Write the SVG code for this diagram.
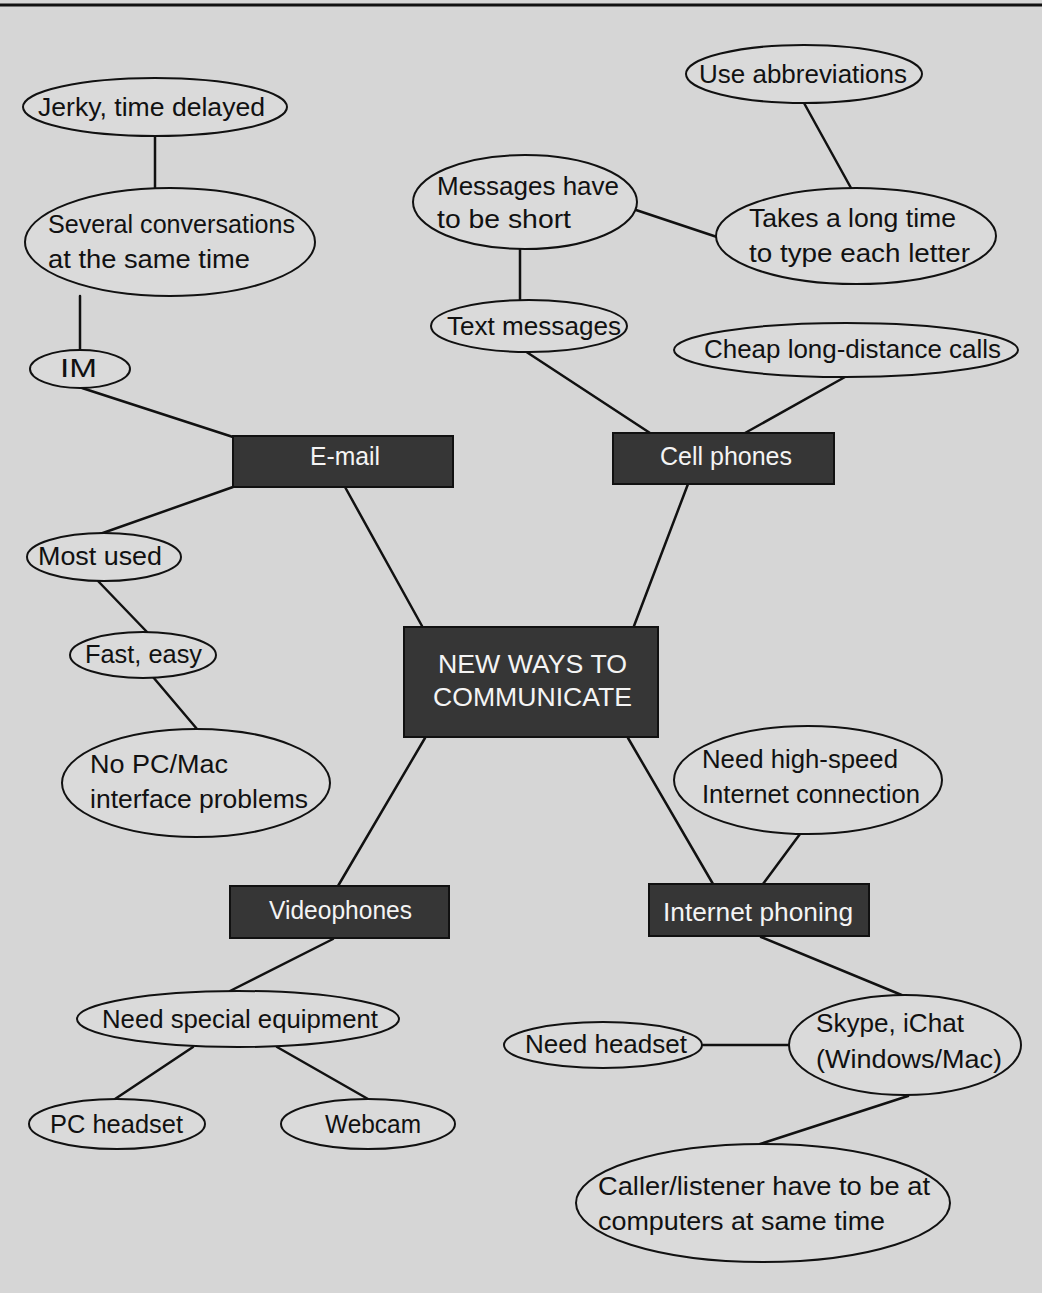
<svg xmlns="http://www.w3.org/2000/svg" width="1042" height="1293" viewBox="0 0 1042 1293">
<style>
.bg{fill:#d6d6d6}
.el{fill:#dadada;stroke:#111;stroke-width:2}
.box{fill:#363636;stroke:#111;stroke-width:2}
text{font-family:"Liberation Sans",Arial,sans-serif;font-size:25px}
.t{fill:#111}
.w{fill:#f4f4f4}
.m{text-anchor:middle}
#connectors line{stroke:#111;stroke-width:2.5;stroke-linecap:round}
</style>
<rect class="bg" x="0" y="0" width="1042" height="1293"/>
<line x1="0" y1="5" x2="1042" y2="5" stroke="#111" stroke-width="3"/>
<g id="connectors">
<line x1="155" y1="137" x2="155" y2="188"/>
<line x1="80" y1="296" x2="80" y2="350"/>
<line x1="82" y1="388" x2="233" y2="437"/>
<line x1="233" y1="487" x2="100" y2="534"/>
<line x1="98" y1="581" x2="147" y2="632"/>
<line x1="153" y1="677" x2="197" y2="729"/>
<line x1="345" y1="487" x2="422" y2="626"/>
<line x1="804" y1="103" x2="851" y2="188"/>
<line x1="636" y1="210" x2="717" y2="237"/>
<line x1="520" y1="249" x2="520" y2="300"/>
<line x1="525" y1="351" x2="650" y2="433"/>
<line x1="845" y1="377" x2="745" y2="433"/>
<line x1="688" y1="484" x2="634" y2="626"/>
<line x1="425" y1="738" x2="338" y2="886"/>
<line x1="628" y1="738" x2="713" y2="884"/>
<line x1="800" y1="834" x2="763" y2="884"/>
<line x1="333" y1="939" x2="230" y2="991"/>
<line x1="193" y1="1047" x2="115" y2="1099"/>
<line x1="277" y1="1047" x2="368" y2="1099"/>
<line x1="761" y1="937" x2="904" y2="996"/>
<line x1="703" y1="1045" x2="789" y2="1045"/>
<line x1="908" y1="1096" x2="760" y2="1144"/>
</g>
<g id="center">
<rect class="box" x="404" y="627" width="254" height="110"/>
<text class="w" x="438" y="673" textLength="189" lengthAdjust="spacingAndGlyphs">NEW WAYS TO</text>
<text class="w" x="433" y="706" textLength="199" lengthAdjust="spacingAndGlyphs">COMMUNICATE</text>
</g>
<g id="email">
<rect class="box" x="233" y="436" width="220" height="51"/>
<text class="w" x="310" y="465" textLength="70" lengthAdjust="spacingAndGlyphs">E-mail</text>
</g>
<g id="cellphones">
<rect class="box" x="613" y="433" width="221" height="51"/>
<text class="w" x="660" y="465" textLength="132" lengthAdjust="spacingAndGlyphs">Cell phones</text>
</g>
<g id="videophones">
<rect class="box" x="230" y="886" width="219" height="52"/>
<text class="w" x="269" y="919" textLength="143" lengthAdjust="spacingAndGlyphs">Videophones</text>
</g>
<g id="internetphoning">
<rect class="box" x="649" y="884" width="220" height="52"/>
<text class="w" x="663" y="921" textLength="190" lengthAdjust="spacingAndGlyphs">Internet phoning</text>
</g>
<g id="jerky">
<ellipse class="el" cx="155" cy="107" rx="132" ry="29"/>
<text class="t" x="38" y="116" textLength="227" lengthAdjust="spacingAndGlyphs">Jerky, time delayed</text>
</g>
<g id="several">
<ellipse class="el" cx="170" cy="242" rx="145" ry="54"/>
<text class="t" x="48" y="233" textLength="247" lengthAdjust="spacingAndGlyphs">Several conversations</text>
<text class="t" x="48" y="268" textLength="202" lengthAdjust="spacingAndGlyphs">at the same time</text>
</g>
<g id="im">
<ellipse class="el" cx="80" cy="369" rx="50" ry="19"/>
<text class="t" x="60" y="377" textLength="37" lengthAdjust="spacingAndGlyphs">IM</text>
</g>
<g id="mostused">
<ellipse class="el" cx="104" cy="557" rx="77" ry="24"/>
<text class="t" x="38" y="565" textLength="124" lengthAdjust="spacingAndGlyphs">Most used</text>
</g>
<g id="fasteasy">
<ellipse class="el" cx="143" cy="655" rx="73" ry="23"/>
<text class="t" x="85" y="663" textLength="117" lengthAdjust="spacingAndGlyphs">Fast, easy</text>
</g>
<g id="nopc">
<ellipse class="el" cx="196" cy="783" rx="134" ry="54"/>
<text class="t" x="90" y="773" textLength="138" lengthAdjust="spacingAndGlyphs">No PC/Mac</text>
<text class="t" x="90" y="808" textLength="218" lengthAdjust="spacingAndGlyphs">interface problems</text>
</g>
<g id="abbrev">
<ellipse class="el" cx="804" cy="74" rx="118" ry="29"/>
<text class="t" x="699" y="83" textLength="208" lengthAdjust="spacingAndGlyphs">Use abbreviations</text>
</g>
<g id="messages">
<ellipse class="el" cx="525" cy="202" rx="112" ry="47"/>
<text class="t" x="437" y="195" textLength="182" lengthAdjust="spacingAndGlyphs">Messages have</text>
<text class="t" x="437" y="228" textLength="134" lengthAdjust="spacingAndGlyphs">to be short</text>
</g>
<g id="takes">
<ellipse class="el" cx="856" cy="236" rx="140" ry="48"/>
<text class="t" x="749" y="227" textLength="207" lengthAdjust="spacingAndGlyphs">Takes a long time</text>
<text class="t" x="749" y="262" textLength="221" lengthAdjust="spacingAndGlyphs">to type each letter</text>
</g>
<g id="textmessages">
<ellipse class="el" cx="529" cy="326" rx="98" ry="26"/>
<text class="t" x="447" y="335" textLength="174" lengthAdjust="spacingAndGlyphs">Text messages</text>
</g>
<g id="cheap">
<ellipse class="el" cx="846" cy="350" rx="172" ry="27"/>
<text class="t" x="704" y="358" textLength="297" lengthAdjust="spacingAndGlyphs">Cheap long-distance calls</text>
</g>
<g id="highspeed">
<ellipse class="el" cx="808" cy="780" rx="134" ry="54"/>
<text class="t" x="702" y="768" textLength="196" lengthAdjust="spacingAndGlyphs">Need high-speed</text>
<text class="t" x="702" y="803" textLength="218" lengthAdjust="spacingAndGlyphs">Internet connection</text>
</g>
<g id="special">
<ellipse class="el" cx="238" cy="1019" rx="161" ry="28"/>
<text class="t" x="102" y="1028" textLength="276" lengthAdjust="spacingAndGlyphs">Need special equipment</text>
</g>
<g id="pcheadset">
<ellipse class="el" cx="117" cy="1124" rx="88" ry="25"/>
<text class="t" x="50" y="1133" textLength="133" lengthAdjust="spacingAndGlyphs">PC headset</text>
</g>
<g id="webcam">
<ellipse class="el" cx="368" cy="1124" rx="87" ry="25"/>
<text class="t" x="325" y="1133" textLength="96" lengthAdjust="spacingAndGlyphs">Webcam</text>
</g>
<g id="skype">
<ellipse class="el" cx="905" cy="1045" rx="116" ry="50"/>
<text class="t" x="816" y="1032" textLength="148" lengthAdjust="spacingAndGlyphs">Skype, iChat</text>
<text class="t" x="816" y="1068" textLength="186" lengthAdjust="spacingAndGlyphs">(Windows/Mac)</text>
</g>
<g id="needheadset">
<ellipse class="el" cx="603" cy="1045" rx="99" ry="23"/>
<text class="t" x="525" y="1053" textLength="162" lengthAdjust="spacingAndGlyphs">Need headset</text>
</g>
<g id="caller">
<ellipse class="el" cx="763" cy="1203" rx="187" ry="59"/>
<text class="t" x="598" y="1195" textLength="332" lengthAdjust="spacingAndGlyphs">Caller/listener have to be at</text>
<text class="t" x="598" y="1230" textLength="287" lengthAdjust="spacingAndGlyphs">computers at same time</text>
</g>
</svg>
